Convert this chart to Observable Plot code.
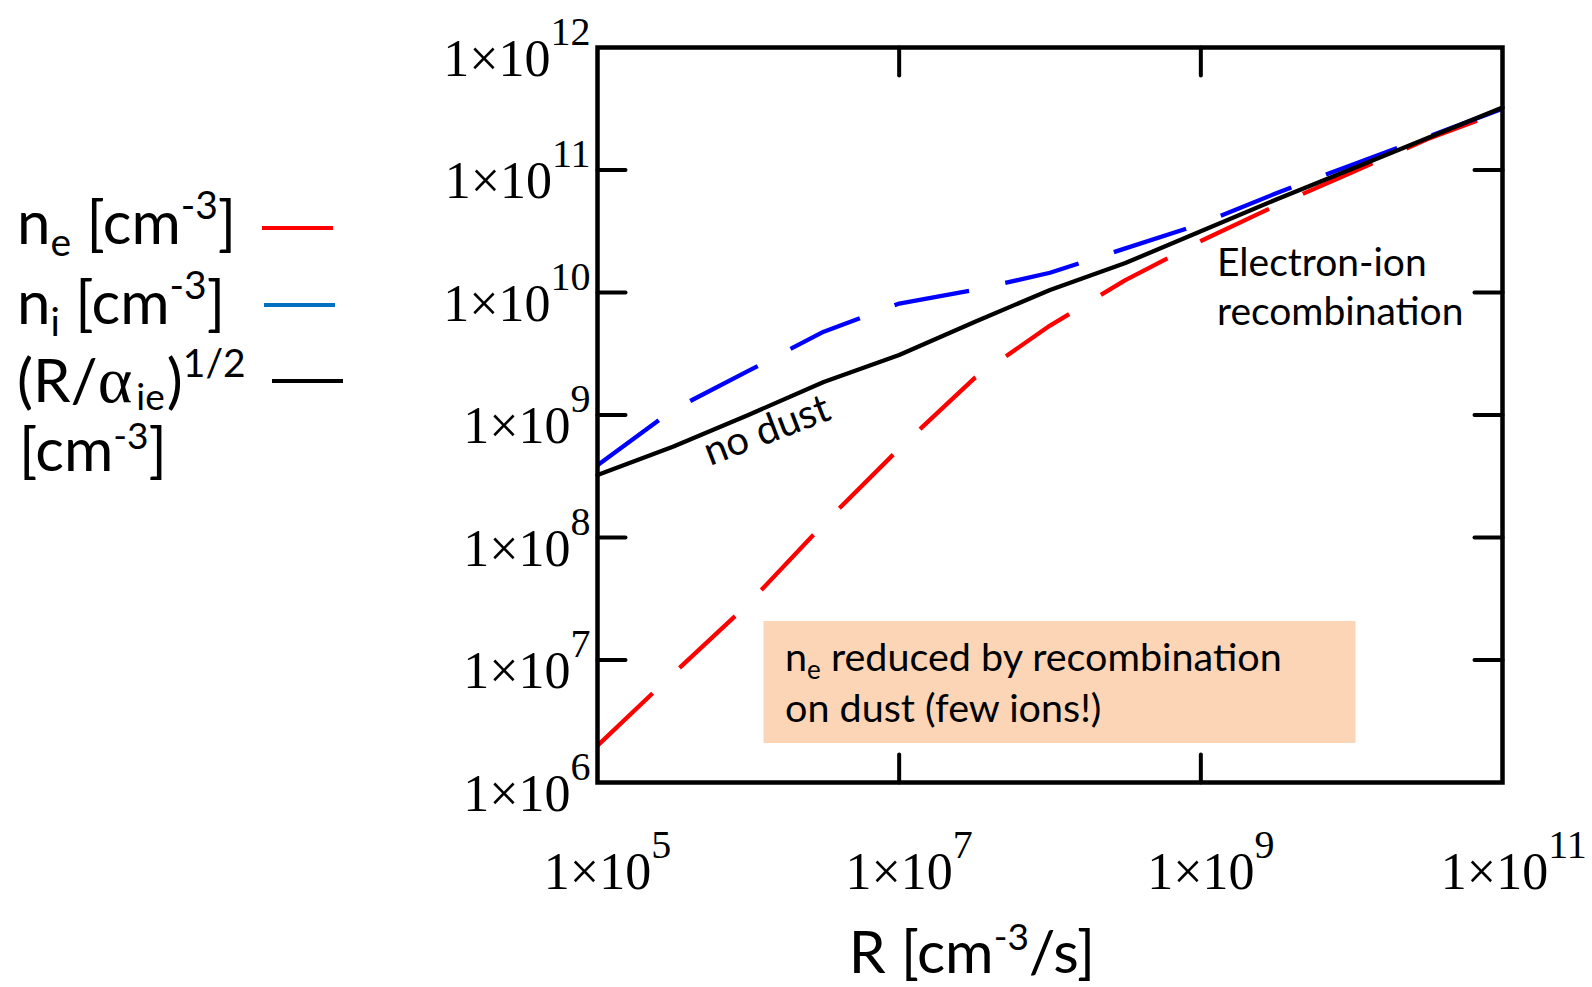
<!DOCTYPE html>
<html><head><meta charset="utf-8">
<script src="https://cdn.jsdelivr.net/npm/d3@7"></script>
<script src="https://cdn.jsdelivr.net/npm/@observablehq/plot@0.6"></script>
<style>
html,body{margin:0;padding:0;background:#fff;}
#chart{position:relative;width:1592px;height:987px;overflow:hidden;}
</style></head><body><div id="chart"></div>
<script>
// Recombination rate R [cm^-3/s]
const R = [1e5, 3.16e5, 1e6, 3.16e6, 1e7, 3.16e7, 1e8, 3.16e8, 1e9, 3.16e9, 1e10, 3.16e10, 1e11];
// n_e [cm^-3] (with dust)
const neValues = [2.00e6, 7.67e6, 2.88e7, 1.29e8, 5.31e8, 2.00e9, 5.37e9, 1.26e10, 2.63e10, 5.13e10, 9.55e10, 1.78e11, 3.02e11];
// n_i [cm^-3] (with dust)
const niValues = [3.89e8, 1.10e9, 2.29e9, 4.79e9, 8.13e9, 1.05e10, 1.45e10, 2.29e10, 3.63e10, 6.46e10, 1.10e11, 1.86e11, 3.16e11];
// (R/alpha_ie)^1/2 [cm^-3] (no dust)
const rootValues = [3.24e8, 5.50e8, 1.00e9, 1.86e9, 3.09e9, 5.75e9, 1.05e10, 1.74e10, 3.16e10, 5.75e10, 1.02e11, 1.82e11, 3.24e11];

const xTicks = [1e5, 1e7, 1e9, 1e11];
const yTicks = [1e6, 1e7, 1e8, 1e9, 1e10, 1e11, 1e12];
const xInnerTicks = [1e7, 1e9];
const yInnerTicks = [1e7, 1e8, 1e9, 1e10, 1e11];

const seriesColors = {ne: "#ff0000", ni: "#0000ff", root: "#000000"};

const rows = (vals, key) => R.map((r, i) => ({R: r, n: vals[i], s: key}));
const neRows = rows(neValues, "ne");
const niRows = rows(niValues, "ni");
const rootRows = rows(rootValues, "root");

const tickShape = {draw(ctx, l) { ctx.moveTo(0, 0); ctx.lineTo(0, -l); }};
const fmt = d => "1×10^" + Math.round(Math.log10(d));

const svg = Plot.plot({
  width: 1592, height: 987,
  marginLeft: 597, marginRight: 90, marginTop: 47, marginBottom: 205,
  x: {type: "log", domain: [1e5, 1e11]},
  y: {type: "log", domain: [1e6, 1e12]},
  style: {background: "white", overflow: "visible"},
  marks: [
    Plot.line(neRows, {x: "R", y: "n", stroke: seriesColors.ne, strokeWidth: 4.3, strokeDasharray: "76,37", strokeLinecap: "butt"}),
    Plot.line(niRows, {x: "R", y: "n", stroke: seriesColors.ni, strokeWidth: 4.3, strokeDasharray: "76,37", strokeLinecap: "butt"}),
    Plot.line(rootRows, {x: "R", y: "n", stroke: seriesColors.root, strokeWidth: 4.3}),
    Plot.vector(yInnerTicks, {y: d => d, frameAnchor: "left", rotate: 90, length: 28, anchor: "start", shape: tickShape, stroke: "black", strokeWidth: 4}),
    Plot.vector(yInnerTicks, {y: d => d, frameAnchor: "right", rotate: -90, length: 28, anchor: "start", shape: tickShape, stroke: "black", strokeWidth: 4}),
    Plot.vector(xInnerTicks, {x: d => d, frameAnchor: "bottom", rotate: 0, length: 28, anchor: "start", shape: tickShape, stroke: "black", strokeWidth: 4}),
    Plot.vector(xInnerTicks, {x: d => d, frameAnchor: "top", rotate: 180, length: 28, anchor: "start", shape: tickShape, stroke: "black", strokeWidth: 4}),
    Plot.frame({stroke: "black", strokeWidth: 4.5}),
    Plot.axisY({ticks: yTicks, anchor: "left", tickSize: 0, tickPadding: 7, tickFormat: fmt, label: null}),
    Plot.axisX({ticks: xTicks, anchor: "bottom", tickSize: 0, tickPadding: 0, tickFormat: fmt, label: null})
  ]
});

const serif = "'Liberation Serif', 'Times New Roman', serif";
const sans = "Lato, 'Open Sans', 'Noto Sans', sans-serif";

function supLabels(sel, anchor, baseDx, baseDy, lastShift) {
  const n = sel.size();
  sel.each(function(_, i) {
    const t = d3.select(this);
    const [b, e] = t.text().split("^");
    t.text(null).attr("y", null).attr("text-anchor", anchor)
      .attr("font-family", serif).attr("fill", "black").style("font-variant", "normal");
    const dx = baseDx + (i === n - 1 ? lastShift : 0);
    t.append("tspan").attr("font-size", 52).attr("dx", dx).attr("dy", baseDy).text(b);
    t.append("tspan").attr("font-size", 40).attr("dy", -31).text(e);
  });
}
const S = d3.select(svg);
supLabels(S.selectAll('[aria-label="y-axis tick label"] text'), "end", 0, 28, 0);
supLabels(S.selectAll('[aria-label="x-axis tick label"] text'), "start", -53.7, 106, -8);

// Annotations
const ann = S.append("g").attr("font-family", sans).attr("fill", "black").attr("text-anchor", "start");
ann.append("rect").attr("x", 763.5).attr("y", 621).attr("width", 592).attr("height", 122).attr("fill", "#fbd5b5");
const b1 = ann.append("text").attr("x", 785).attr("y", 671).attr("font-size", 39.5);
b1.append("tspan").text("n");
b1.append("tspan").attr("font-size", 26).attr("dy", 8).text("e");
b1.append("tspan").attr("dy", -8).text(" reduced by recombination");
ann.append("text").attr("x", 785).attr("y", 722).attr("font-size", 39.5).text("on dust (few ions!)");
ann.append("text").attr("x", 1217).attr("y", 276).attr("font-size", 39).text("Electron-ion");
ann.append("text").attr("x", 1217).attr("y", 325).attr("font-size", 39).text("recombination");
ann.append("text").attr("transform", "translate(710,466) rotate(-21)").attr("font-size", 40).text("no dust");

// Axis title
const xt = ann.append("text").attr("x", 972).attr("y", 973).attr("text-anchor", "middle").attr("font-size", 59);
xt.append("tspan").text("R [cm");
xt.append("tspan").attr("font-size", 37).attr("dy", -23).text("-3");
xt.append("tspan").attr("dy", 23).text("/s]");

// Legend
const leg = S.append("g").attr("font-family", sans).attr("fill", "black").attr("font-size", 60).attr("text-anchor", "start");
const l1 = leg.append("text").attr("x", 17).attr("y", 244);
l1.append("tspan").text("n");
l1.append("tspan").attr("font-size", 39).attr("dy", 12).text("e");
l1.append("tspan").attr("dy", -12).text(" [cm");
l1.append("tspan").attr("font-size", 39).attr("dy", -25).text("-3");
l1.append("tspan").attr("dy", 25).text("]");
const l2 = leg.append("text").attr("x", 17).attr("y", 324);
l2.append("tspan").text("n");
l2.append("tspan").attr("font-size", 39).attr("dy", 12).text("i");
l2.append("tspan").attr("dy", -12).text(" [cm");
l2.append("tspan").attr("font-size", 39).attr("dy", -25).text("-3");
l2.append("tspan").attr("dy", 25).text("]");
const l3 = leg.append("text").attr("x", 17).attr("y", 402);
l3.append("tspan").text("(R/");
l3.append("tspan").attr("font-family", serif).attr("font-size", 66).text("α");
l3.append("tspan").attr("font-size", 37).attr("dx", 4).attr("dy", 8).text("ie");
l3.append("tspan").attr("dx", 2).attr("dy", -8).text(")");
l3.append("tspan").attr("font-size", 39).attr("dy", -25).text("1/2");
const l4 = leg.append("text").attr("x", 19).attr("y", 471);
l4.append("tspan").text("[cm");
l4.append("tspan").attr("font-size", 37).attr("dy", -22).text("-3");
l4.append("tspan").attr("dy", 22).text("]");
leg.append("line").attr("x1", 262).attr("x2", 333).attr("y1", 228).attr("y2", 228).attr("stroke", "#ff0000").attr("stroke-width", 4);
leg.append("line").attr("x1", 264).attr("x2", 335).attr("y1", 305).attr("y2", 305).attr("stroke", "#0070c0").attr("stroke-width", 4);
leg.append("line").attr("x1", 272).attr("x2", 343).attr("y1", 381).attr("y2", 381).attr("stroke", "#000000").attr("stroke-width", 4);

document.getElementById("chart").appendChild(svg);
</script></body></html>
